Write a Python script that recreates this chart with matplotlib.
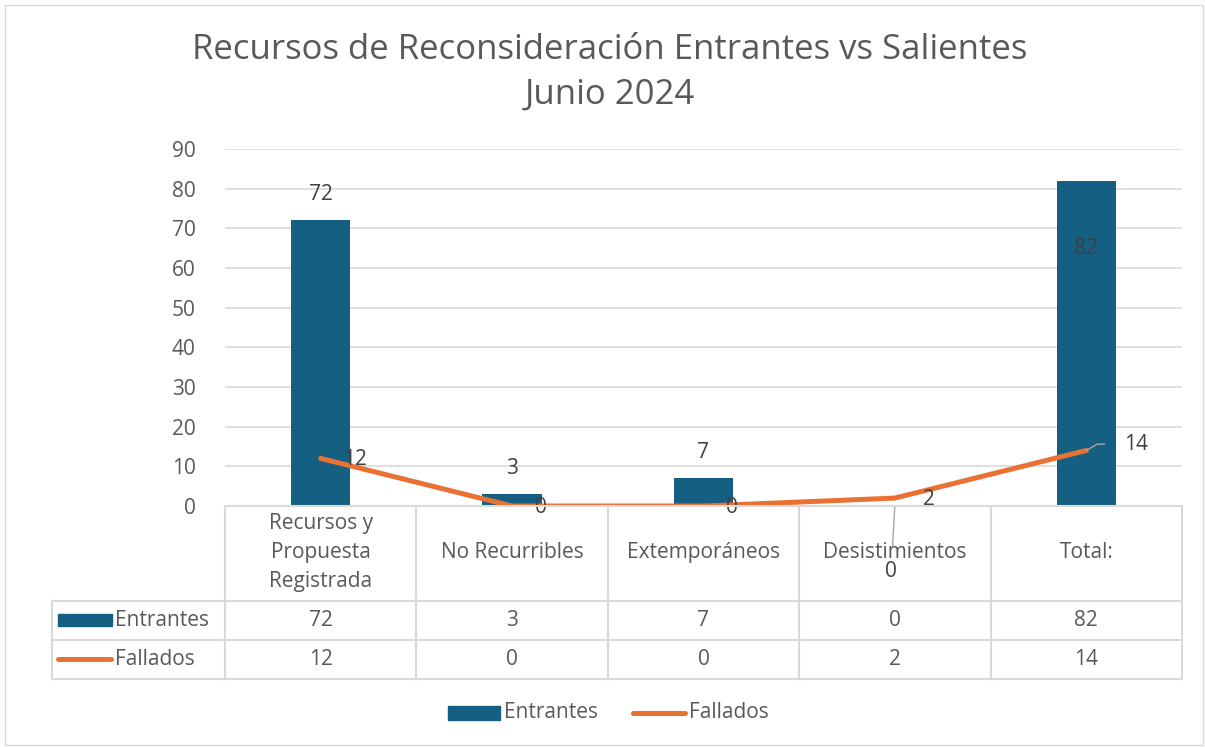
import matplotlib.pyplot as plt
from matplotlib.patches import Rectangle
from matplotlib.lines import Line2D

plt.rcParams['font.family'] = ['Open Sans', 'DejaVu Sans']

# datos
categorias = ['Recursos y\nPropuesta\nRegistrada', 'No Recurribles', 'Extemporáneos',
              'Desistimientos', 'Total:']
entrantes = [72, 3, 7, 0, 82]
fallados = [12, 0, 0, 2, 14]
series = ['Entrantes', 'Fallados']

azul = '#156082'
naranja = '#E97132'
gris_txt = '#595959'
gris_lin = '#D9D9D9'
fs = 15

fig = plt.figure(figsize=(12.05, 7.47), dpi=100)
fig.patches.append(Rectangle((0.004, 0.003), 0.994, 0.99, transform=fig.transFigure,
                             fill=False, edgecolor=gris_lin, linewidth=1))

fig.text(0.506, 1 - 50 / 747, 'Recursos de Reconsideración Entrantes vs Salientes',
         ha='center', va='center', fontsize=25, color=gris_txt)
fig.text(0.506, 1 - 95 / 747, 'Junio 2024', ha='center', va='center', fontsize=25, color=gris_txt)

# grafico principal
ax = fig.add_axes([0.1867, 0.3226, 0.7942, 0.478])
x = list(range(len(categorias)))
ax.bar(x, entrantes, width=0.31, color=azul, zorder=2)
ax.plot(x, fallados, color=naranja, linewidth=3.6, solid_capstyle='round', zorder=3)
ax.set_xlim(-0.5, 4.5)
ax.set_ylim(0, 90)
ax.set_yticks(range(0, 91, 10))
ax.grid(axis='y', color=gris_lin, linewidth=1.2, zorder=0)
ax.tick_params(axis='y', length=0, labelsize=fs, labelcolor=gris_txt, pad=21)
ax.tick_params(axis='x', length=0, labelbottom=False)
for s in ax.spines.values():
    s.set_visible(False)

# etiquetas de Entrantes
for i, v in enumerate(entrantes):
    if i == 4:
        ax.text(i, v - 17, str(v), ha='center', va='center', fontsize=fs, color='#404040')
    elif v == 0:
        ax.annotate(str(v), xy=(i, 0), xytext=(i - 0.02, -16.5), ha='center', va='center',
                    fontsize=fs, color='#404040', annotation_clip=False,
                    arrowprops=dict(arrowstyle='-', color='#A6A6A6', lw=1, shrinkA=8, shrinkB=0))
    else:
        ax.text(i, v + 6.5, str(v), ha='center', va='center', fontsize=fs, color='#404040')

# etiquetas de Fallados
for i, v in enumerate(fallados):
    if i == 4:
        ax.annotate(str(v), xy=(i, v), xytext=(i + 0.26, v + 1.6), ha='center', va='center',
                    fontsize=fs, color='#404040',
                    arrowprops=dict(arrowstyle='-', color='#A6A6A6', lw=1, shrinkA=12, shrinkB=0,
                                    connectionstyle='angle,angleA=0,angleB=30,rad=0'))
    elif v == 0:
        ax.text(i + 0.15, v - 0.4, str(v), ha='center', va='center', fontsize=fs, color='#404040')
    else:
        ax.text(i + 0.18, v - 0.4, str(v), ha='center', va='center', fontsize=fs, color='#404040')

# tabla de datos
tab = fig.add_axes([0.1867, 0.0911, 0.7942, 0.2315], sharex=ax)
tab.set_ylim(173, 0)
tab.axis('off')
izq = -0.5 - 173 / 191.4
filas = [(95, 134), (134, 173)]
kw = dict(color=gris_lin, linewidth=1.5, clip_on=False)
# lineas horizontales
tab.plot([-0.5, 4.5], [0, 0], **kw)
for y in (95, 134, 173):
    tab.plot([izq, 4.5], [y, y], **kw)
# lineas verticales
for xb in [k - 0.5 for k in range(len(categorias) + 1)]:
    tab.plot([xb, xb], [0, 173], **kw)
tab.plot([izq, izq], [95, 173], **kw)

for i, c in enumerate(categorias):
    tab.text(i, 47, c, ha='center', va='center', fontsize=fs, color=gris_txt,
             linespacing=1.5, clip_on=False)
for (y0, y1), vals in zip(filas, [entrantes, fallados]):
    for i, v in enumerate(vals):
        tab.text(i, (y0 + y1) / 2, str(v), ha='center', va='center', fontsize=fs, color=gris_txt)

# leyenda en la tabla
ym = sum(filas[0]) / 2
tab.add_patch(Rectangle((izq + 0.033, ym - 6), 0.28, 12, color=azul, clip_on=False))
tab.text(izq + 0.33, ym, series[0], ha='left', va='center', fontsize=fs, color=gris_txt)
ym = sum(filas[1]) / 2
tab.add_line(Line2D([izq + 0.03, izq + 0.31], [ym, ym], color=naranja, linewidth=3.6,
                    solid_capstyle='round', clip_on=False))
tab.text(izq + 0.33, ym, series[1], ha='left', va='center', fontsize=fs, color=gris_txt)

# leyenda inferior
fig.patches.append(Rectangle((448 / 1205, 1 - 720 / 747), 52 / 1205, 14 / 747,
                             transform=fig.transFigure, color=azul))
fig.text(504 / 1205, 1 - 713 / 747, series[0], ha='left', va='center', fontsize=fs, color=gris_txt)
fig.lines.append(Line2D([633 / 1205, 685 / 1205], [1 - 713 / 747, 1 - 713 / 747],
                        transform=fig.transFigure, color=naranja, linewidth=3.6,
                        solid_capstyle='round'))
fig.text(689 / 1205, 1 - 713 / 747, series[1], ha='left', va='center', fontsize=fs, color=gris_txt)

fig.savefig('out.png', dpi=100)
